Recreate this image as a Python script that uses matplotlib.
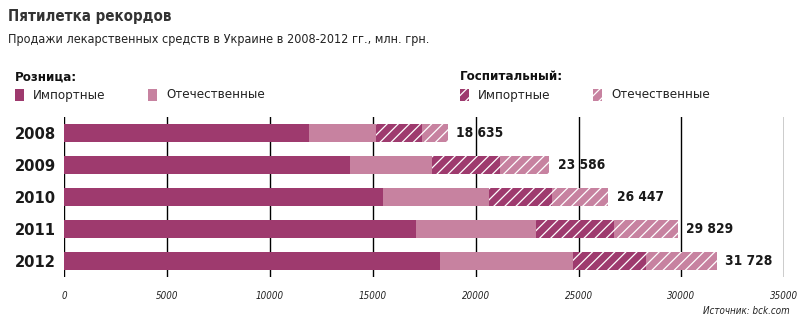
import matplotlib
matplotlib.use("Agg")
import matplotlib.pyplot as plt
from matplotlib.patches import Rectangle

years = ["2008", "2009", "2010", "2011", "2012"]
retail_import = [11895, 13888, 15493, 17097, 18264]
retail_domestic = [3257, 4002, 5167, 5833, 6465]
hosp_import = [2222, 3290, 3063, 3792, 3549]
hosp_domestic = [1261, 2406, 2724, 3107, 3450]
total_labels = ["18 635", "23 586", "26 447", "29 829", "31 728"]
xticks = [0, 5000, 10000, 15000, 20000, 25000, 30000, 35000]

DARK = "#9e3a6e"
LIGHT = "#c782a0"
COND = "condensed"
plt.rcParams["hatch.color"] = "white"
plt.rcParams["hatch.linewidth"] = 0.9
plt.rcParams["font.stretch"] = COND

W, H = 807, 326
fig = plt.figure(figsize=(W / 100, H / 100), dpi=100)
ax = fig.add_axes([64.3 / W, 1 - 277 / H, (784.3 - 64.3) / W, 160 / H])
ax.set_xlim(0, 35000)
ax.set_ylim(4.5, -0.5)

y = list(range(len(years)))
segments = [
    (retail_import, DARK, None),
    (retail_domestic, LIGHT, None),
    (hosp_import, DARK, "///"),
    (hosp_domestic, LIGHT, "///"),
]
left = [0] * len(years)
for vals, col, hatch in segments:
    ax.barh(y, vals, left=left, height=0.56, color=col, hatch=hatch,
            edgecolor="white" if hatch else col, linewidth=0, zorder=2)
    left = [l + v for l, v in zip(left, vals)]

for yi, tot, lab in zip(y, left, total_labels):
    ax.text(tot + 400, yi, lab, ha="left", va="center", fontsize=9.8,
            fontweight="bold", color="#1a1a1a", zorder=3, fontstretch=COND)

for xt in xticks:
    ax.axvline(xt, color="black", linewidth=1.0, zorder=1)

for s in ax.spines.values():
    s.set_visible(False)
ax.set_xticks(xticks)
ax.set_xticklabels([str(t) for t in xticks], fontsize=7, style="italic", color="#222222",
                   fontstretch=COND)
ax.tick_params(axis="x", length=0, pad=10)
ax.set_yticks(y)
ax.set_yticklabels(years, fontsize=11.8, fontweight="bold", color="#1a1a1a",
                   fontstretch=COND)
ax.tick_params(axis="y", length=0, pad=6)

def fx(px):
    return px / W

def fy(py):
    return 1 - py / H

fig.text(fx(8), fy(17), "Пятилетка рекордов", fontsize=10.8, fontweight="bold",
         color="#333333", va="center", ha="left", fontstretch=COND)
fig.text(fx(8), fy(39), "Продажи лекарственных средств в Украине в 2008-2012 гг., млн. грн.",
         fontsize=9, color="#222222", va="center", ha="left", fontstretch=COND)

def legend_item(px, text, col, hatch):
    r = Rectangle((fx(px), fy(101)), 9 / W, 12 / H, transform=fig.transFigure,
                  facecolor=col, hatch=hatch, edgecolor="white" if hatch else col,
                  linewidth=0)
    fig.add_artist(r)
    fig.text(fx(px + 18), fy(95), text, fontsize=9.5, color="#222222",
             va="center", ha="left", fontstretch=COND)

fig.text(fx(15), fy(77), "Розница:", fontsize=9.5, fontweight="bold",
         color="#111111", va="center", ha="left", fontstretch=COND)
legend_item(15, "Импортные", DARK, None)
legend_item(148, "Отечественные", LIGHT, None)
fig.text(fx(460), fy(77), "Госпитальный:", fontsize=9.5, fontweight="bold",
         color="#111111", va="center", ha="left", fontstretch=COND)
legend_item(460, "Импортные", DARK, "///")
legend_item(593, "Отечественные", LIGHT, "///")

fig.text(fx(790), fy(311), "Источник: bck.com", fontsize=7, style="italic",
         color="#222222", va="center", ha="right", fontstretch=COND)

fig.savefig("out.png", dpi=100)
